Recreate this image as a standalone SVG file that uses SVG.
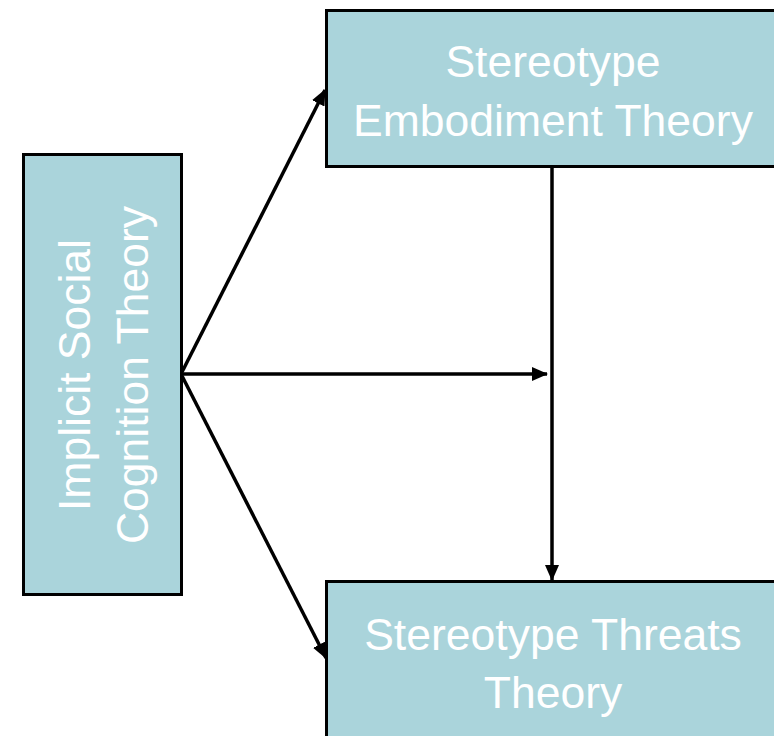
<svg xmlns="http://www.w3.org/2000/svg" width="774" height="736" viewBox="0 0 774 736">
<defs>
<marker id="ah" markerWidth="16" markerHeight="14" refX="15" refY="7" orient="auto" markerUnits="userSpaceOnUse">
<path d="M0,0 L16,7 L0,14 Z" fill="#000"/>
</marker>
<style>
.box{fill:#aad4db;stroke:#000;stroke-width:3}
.t{font-family:"Liberation Sans",Arial,sans-serif;font-size:44.5px;fill:#fff;text-anchor:middle}
.c{stroke:#000;stroke-width:3.5;fill:none;marker-end:url(#ah)}
</style>
</defs>
<rect width="774" height="736" fill="#fff"/>
<g id="connectors">
<line class="c" x1="181" y1="374" x2="325" y2="90"/>
<line class="c" x1="181" y1="374" x2="547" y2="374"/>
<line class="c" x1="181" y1="374" x2="326" y2="658"/>
<line class="c" x1="552" y1="167" x2="552" y2="580"/>
</g>
<g id="node-implicit">
<rect class="box" x="23.5" y="154.5" width="158" height="440"/>
<text class="t" transform="translate(90,375) rotate(-90)"><tspan x="0" y="0">Implicit Social</tspan><tspan x="0" y="58">Cognition Theory</tspan></text>
</g>
<g id="node-embodiment">
<rect class="box" x="326.5" y="10.5" width="460" height="156"/>
<text class="t"><tspan x="553" y="77">Stereotype</tspan><tspan x="553" y="136">Embodiment Theory</tspan></text>
</g>
<g id="node-threats">
<rect class="box" x="326.5" y="581.5" width="460" height="170"/>
<text class="t"><tspan x="553" y="650">Stereotype Threats</tspan><tspan x="553" y="708">Theory</tspan></text>
</g>
</svg>
